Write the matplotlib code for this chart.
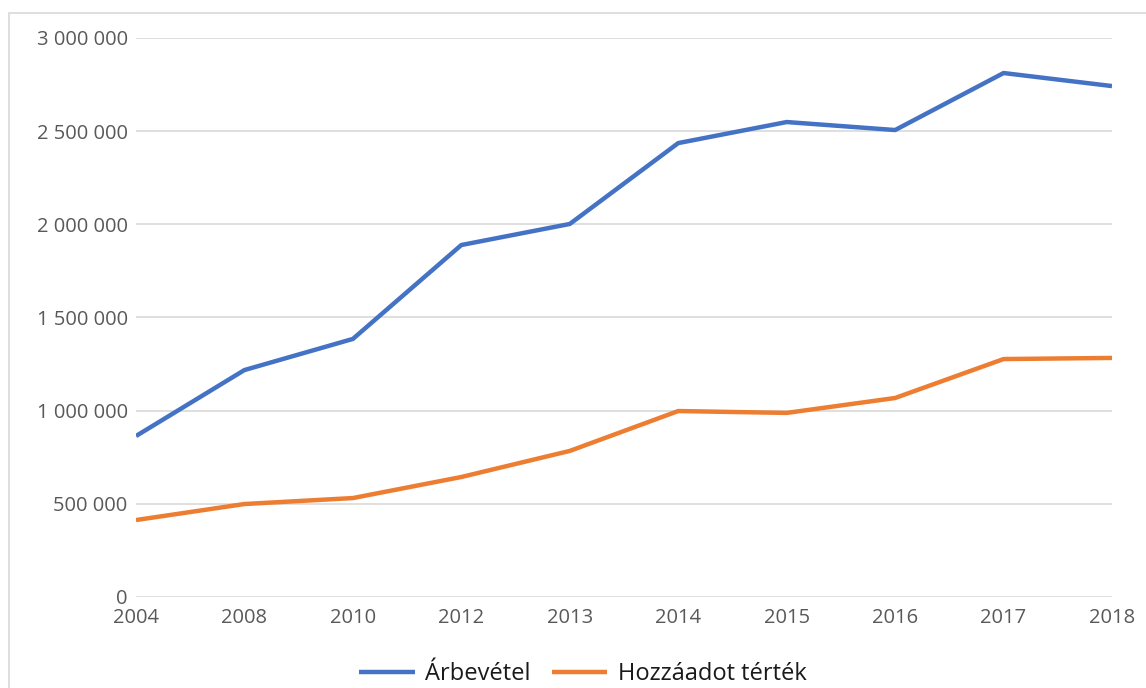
import matplotlib.pyplot as plt
from matplotlib.patches import Rectangle
from matplotlib.ticker import FuncFormatter, MultipleLocator

plt.rcParams['font.family'] = ['Open Sans', 'DejaVu Sans']

years = ['2004', '2008', '2010', '2012', '2013', '2014', '2015', '2016', '2017', '2018']
arbevetel = [864000, 1218000, 1385000, 1889000, 2002000, 2436000, 2549000, 2506000, 2812000, 2742000]
hozzaadott = [413000, 499000, 531000, 644000, 784000, 998000, 988000, 1068000, 1277000, 1283000]

fig = plt.figure(figsize=(11.46, 6.88), dpi=100)
ax = fig.add_axes([136 / 1146, 1 - 597 / 688, (1112 - 136) / 1146, (597 - 38) / 688])

# chart border like the Excel frame
fig.patches.append(Rectangle((9 / 1146, -0.1), 1.2, 1.1 - 13 / 688,
                             transform=fig.transFigure, fill=False,
                             edgecolor='#d9d9d9', lw=1.2))

x = range(len(years))
ax.plot(x, arbevetel, color='#4472C4', lw=3.2, label='Árbevétel', solid_capstyle='butt')
ax.plot(x, hozzaadott, color='#ED7D31', lw=3.2, label='Hozzáadot térték', solid_capstyle='butt')

ax.set_xlim(0, len(years) - 1)
ax.set_ylim(0, 3000000)
ax.yaxis.set_major_locator(MultipleLocator(500000))
ax.yaxis.set_major_formatter(FuncFormatter(lambda v, p: f'{int(v):,}'.replace(',', ' ')))
ax.set_xticks(list(x))
ax.set_xticklabels(years)

ax.grid(axis='y', color='#d9d9d9', lw=1.2)
ax.set_axisbelow(True)
for s in ax.spines.values():
    s.set_visible(False)
ax.tick_params(axis='both', length=0, labelsize=14.5, colors='#595959')
ax.tick_params(axis='y', pad=6)
ax.tick_params(axis='x', pad=8)

fig.legend(loc='center', bbox_to_anchor=(0.5 + 10 / 1146, 1 - 674 / 688), ncol=2, frameon=False,
           fontsize=17, handlelength=2.35, columnspacing=0.9, handletextpad=0.45,
           labelcolor='#1a1a1a')

fig.savefig('out.png', dpi=100)
